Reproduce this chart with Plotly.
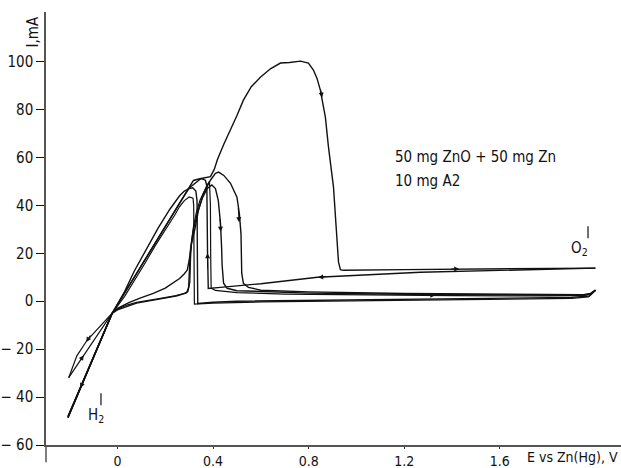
import plotly.graph_objects as go

# ---------------- data (E in V vs Zn(Hg), I in mA) ----------------
# cycle 1 forward: large anodic peak
E_fwd1 = [-0.207, -0.15, -0.10, -0.05, -0.022, 0.0, 0.05, 0.10, 0.15, 0.20, 0.25, 0.30, 0.318,
          0.34, 0.36, 0.389, 0.405, 0.418, 0.445, 0.473, 0.50, 0.527, 0.56, 0.598, 0.64, 0.682,
          0.72, 0.766, 0.799, 0.82, 0.835, 0.849, 0.87, 0.883, 0.904, 0.916, 0.925, 0.933, 0.945,
          1.2, 1.6, 2.0]
I_fwd1 = [-48.3, -35.0, -23.3, -11.6, -5.0, -1.4, 6.7, 14.9, 23.0, 31.2, 39.3, 47.5, 50.4,
          51.0, 51.3, 52.0, 55.0, 59.0, 65.5, 71.4, 77.5, 83.9, 89.5, 93.5, 97.0, 99.4,
          99.6, 100.2, 99.4, 96.5, 93.0, 88.1, 76.8, 64.3, 47.6, 29.6, 16.3, 13.2, 12.9,
          13.2, 13.5, 13.8]

# cycle 1 reverse
E_rev1 = [2.0, 1.6, 1.268, 0.837, 0.6, 0.431, 0.40, 0.38, 0.377, 0.376, 0.374, 0.368, 0.35,
          0.30, 0.20, 0.10, 0.0, -0.022, -0.10, -0.207]
I_rev1 = [13.8, 13.0, 12.1, 10.0, 7.3, 5.8, 5.5, 5.3, 20.0, 40.0, 48.0, 50.5, 51.2,
          47.3, 31.0, 14.7, -1.6, -5.0, -23.4, -48.5]

# cycle 2 forward (peak ~54 mA, passivation at 0.52 V)
E_fwd2 = [-0.207, -0.15, -0.10, -0.05, -0.022, 0.0, 0.05, 0.10, 0.15, 0.20, 0.232, 0.26, 0.28,
          0.292, 0.30, 0.31, 0.326, 0.339, 0.36, 0.389, 0.41, 0.423, 0.445, 0.473, 0.50, 0.51,
          0.517, 0.519, 0.52, 0.527, 0.548, 0.60, 0.80, 1.2, 1.6, 1.95, 1.98, 2.0]
I_fwd2 = [-48.0, -34.8, -23.1, -11.4, -5.0, -3.0, -0.5, 1.5, 3.3, 5.5, 7.5, 9.5, 11.5,
          13.0, 17.0, 24.0, 31.0, 38.0, 45.0, 50.5, 53.4, 53.9, 52.5, 49.2, 43.4, 36.7,
          28.0, 20.0, 11.7, 7.5, 5.8, 4.6, 3.9, 3.2, 2.8, 2.7, 3.3, 4.6]

# cycle 2 reverse
E_rev2 = [2.0, 1.975, 1.9, 1.6, 1.2, 0.8, 0.5, 0.4, 0.345, 0.336, 0.335, 0.334, 0.333, 0.328,
          0.315, 0.30, 0.28, 0.26, 0.22, 0.17, 0.12, 0.07, 0.03, -0.022, -0.10, -0.207]
I_rev2 = [4.6, 2.2, 1.6, 1.3, 1.0, 0.6, 0.0, -0.4, -0.8, -0.9, 10.0, 30.0, 42.0, 46.0,
          47.3, 47.0, 46.0, 44.0, 38.5, 30.5, 21.5, 12.5, 4.0, -5.0, -23.3, -48.3]

# cycle 3 forward (peak ~48 mA, passivation at 0.44 V)
E_fwd3 = [-0.207, -0.15, -0.10, -0.05, -0.022, 0.0, 0.08, 0.18, 0.25, 0.29, 0.298, 0.302, 0.306,
          0.318, 0.335, 0.355, 0.375, 0.395, 0.41, 0.422, 0.431, 0.436, 0.438, 0.444, 0.459, 0.50,
          0.80, 1.2, 1.6, 1.95, 1.98, 2.0]
I_fwd3 = [-48.6, -35.3, -23.6, -11.8, -5.0, -3.6, -0.8, 1.0, 2.3, 3.6, 6.0, 15.0, 22.0,
          30.0, 37.0, 43.0, 47.0, 48.5, 47.0, 42.0, 32.6, 22.0, 15.0, 7.5, 5.4, 4.4,
          3.4, 2.9, 2.6, 2.5, 3.2, 4.6]

# cycle 3 reverse
E_rev3 = [2.0, 1.97, 1.9, 1.5, 1.0, 0.6, 0.4, 0.33, 0.322, 0.321, 0.32, 0.319, 0.316, 0.30,
          0.28, 0.26, 0.24, 0.20, 0.16, 0.11, 0.07, 0.03, -0.022, -0.07, -0.127, -0.17, -0.204]
I_rev3 = [4.6, 1.8, 1.2, 0.8, 0.4, -0.3, -0.8, -1.2, -1.2, 10.0, 30.0, 40.0, 43.0, 43.5,
          42.0, 39.5, 36.0, 30.0, 23.5, 15.0, 8.5, 2.0, -5.0, -10.0, -16.3, -22.8, -31.9]

# cycle 4 forward (starts at -32 mA, passivation at 0.39 V)
E_fwd4 = [-0.204, -0.141, -0.08, -0.022, 0.0, 0.04, 0.08, 0.12, 0.18, 0.24, 0.28, 0.295, 0.303,
          0.306, 0.31, 0.318, 0.33, 0.345, 0.36, 0.375, 0.385, 0.389, 0.390, 0.392, 0.41, 0.5,
          0.7, 1.0, 1.4, 1.8, 1.95, 1.98, 2.0]
I_fwd4 = [-31.9, -22.5, -13.5, -5.0, -3.3, -1.6, -0.5, 0.3, 1.2, 2.2, 3.2, 4.0, 8.0,
          18.0, 25.0, 31.0, 37.0, 42.0, 45.5, 48.5, 50.0, 40.0, 20.0, 5.5, 4.5, 3.6,
          3.0, 2.6, 2.3, 2.2, 2.3, 3.0, 4.6]

y_tickvals = [-60, -40, -20, 0, 20, 40, 60, 80, 100]
y_ticktext = ["\u2212 60", "\u2212 40", "\u2212 20", "0", "20", "40", "60", "80", "100"]
x_tickvals = [0, 0.4, 0.8, 1.2, 1.6]
x_ticktext = ["0", "0.4", "0.8", "1.2", "1.6"]

FONT = "DejaVu Sans Condensed, Liberation Sans Narrow, Arial Narrow, sans-serif"
FS = 15

fig = go.Figure()
curves = [
    (E_fwd1, I_fwd1, 1.4), (E_rev1, I_rev1, 1.4),
    (E_fwd2, I_fwd2, 1.4), (E_rev2, I_rev2, 1.4),
    (E_fwd3, I_fwd3, 1.4), (E_rev3, I_rev3, 1.2),
    (E_fwd4, I_fwd4, 1.2),
]
for ex, iy, w in curves:
    fig.add_trace(go.Scatter(x=ex, y=iy, mode="lines",
                             line=dict(color="#111111", width=w),
                             hoverinfo="skip", showlegend=False))

# direction arrows (head, tail) in data coords
arrows = [
    ((0.856, 85.0), (0.849, 89.0)),
    ((1.43, 13.5), (1.39, 13.45)),
    ((0.84, 10.0), (0.88, 10.3)),
    ((1.33, 2.5), (1.29, 2.52)),
    ((0.432, 29.0), (0.429, 35.0)),
    ((0.509, 33.0), (0.505, 39.5)),
    ((0.377, 20.0), (0.3775, 13.0)),
    ((-0.13, -17.0), (-0.11, -13.6)),
    ((-0.141, -22.5), (-0.16, -25.3)),
    ((-0.155, -36.2), (-0.135, -31.5)),
]
for (hx, hy), (tx, ty) in arrows:
    fig.add_annotation(x=hx, y=hy, ax=tx, ay=ty, xref="x", yref="y", axref="x", ayref="y",
                       text="", showarrow=True, arrowhead=2, arrowsize=1.0, arrowwidth=1,
                       arrowcolor="#111111")

# text labels
fig.add_annotation(x=1.153, y=60.1, xref="x", yref="y", text="50 mg ZnO + 50 mg Zn",
                   showarrow=False, xanchor="left", yanchor="middle",
                   font=dict(family=FONT, size=FS, color="#111111"))
fig.add_annotation(x=1.153, y=50.1, xref="x", yref="y", text="10 mg A2",
                   showarrow=False, xanchor="left", yanchor="middle",
                   font=dict(family=FONT, size=FS, color="#111111"))
fig.add_annotation(x=1.935, y=22.0, xref="x", yref="y", text="O<sub>2</sub>",
                   showarrow=False, xanchor="center", yanchor="middle",
                   font=dict(family=FONT, size=FS, color="#111111"))
fig.add_annotation(x=-0.09, y=-47.5, xref="x", yref="y", text="H<sub>2</sub>",
                   showarrow=False, xanchor="center", yanchor="middle",
                   font=dict(family=FONT, size=FS, color="#111111"))
fig.add_annotation(x=0.998, y=-0.05, xref="paper", yref="paper", text="E vs Zn(Hg), V",
                   showarrow=False, xanchor="right", yanchor="bottom",
                   font=dict(family=FONT, size=14, color="#111111"))
fig.add_annotation(x=-0.021, y=0.955, xref="paper", yref="paper", text="I,mA",
                   showarrow=False, textangle=-90, xanchor="center", yanchor="middle",
                   font=dict(family=FONT, size=FS, color="#111111"))

# small vertical marks above O2 and H2
fig.add_shape(type="line", x0=1.969, x1=1.969, y0=26.3, y1=31.3, xref="x", yref="y",
              line=dict(color="#111111", width=1.2))
fig.add_shape(type="line", x0=-0.069, x1=-0.069, y0=-43.4, y1=-38.4, xref="x", yref="y",
              line=dict(color="#111111", width=1.2))
# y-axis line extension below the x axis
fig.add_shape(type="line", x0=0, x1=0, y0=0, y1=-0.04, xref="paper", yref="paper",
              line=dict(color="#555555", width=1.5))

fig.update_layout(
    width=621, height=468,
    margin=dict(l=46, r=0, t=12, b=23, autoexpand=False),
    paper_bgcolor="white", plot_bgcolor="white",
    font=dict(family=FONT, size=FS, color="#111111"),
    showlegend=False,
)
fig.update_xaxes(range=[-0.299, 2.107], showgrid=False, zeroline=False, automargin=False,
                 showline=True, linecolor="#555555", linewidth=1.5,
                 ticks="outside", ticklen=2, tickcolor="#333333",
                 tickvals=x_tickvals, ticktext=x_ticktext,
                 tickfont=dict(family=FONT, size=14, color="#111111"))
fig.update_yaxes(range=[-60, 120.7], showgrid=False, zeroline=False, automargin=False,
                 showline=True, linecolor="#555555", linewidth=1.5,
                 ticks="outside", ticklen=8, tickcolor="#111111",
                 tickvals=y_tickvals, ticktext=y_ticktext,
                 tickfont=dict(family=FONT, size=FS, color="#111111"))

fig.write_html("out.html")
